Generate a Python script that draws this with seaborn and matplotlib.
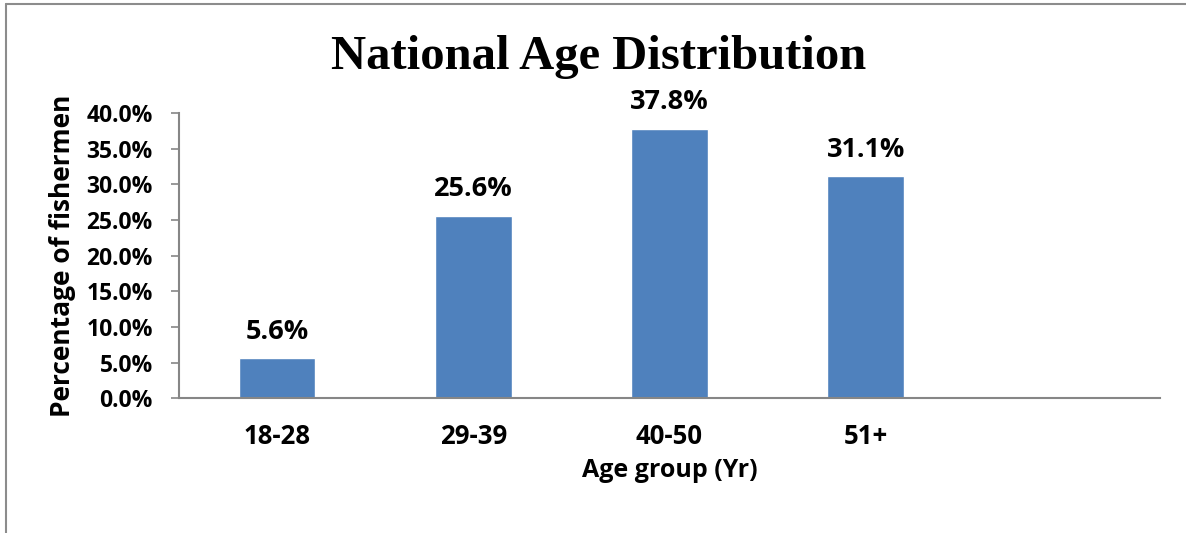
import numpy as np
import matplotlib
matplotlib.use("Agg")
from matplotlib import pyplot as plt
from matplotlib.lines import Line2D
import seaborn as sns
import pandas as pd

sns.set_style("white")
plt.rcParams['font.family'] = ['Open Sans', 'DejaVu Sans']
plt.rcParams['text.color'] = 'black'
plt.rcParams['axes.labelcolor'] = 'black'

# Chart data ------------------------------------------------------------------
age_groups = ['18-28', '29-39', '40-50', '51+']
pct_fishermen = [5.6, 25.6, 37.8, 31.1]
slots = age_groups + ['']          # chart keeps an empty fifth slot
y_ticks = [0, 5, 10, 15, 20, 25, 30, 35, 40]

df = pd.DataFrame({'group': age_groups, 'pct': pct_fishermen})

fig = plt.figure(figsize=(11.86, 5.33), dpi=100)
ax = fig.add_axes([0.151, 0.253, 0.827, 0.535])

sns.barplot(data=df, x='group', y='pct', order=slots, color='#4F81BD',
            saturation=1, width=0.39, edgecolor='white', linewidth=1, ax=ax)

for patch, val in zip(ax.patches, pct_fishermen):
    ax.annotate(f'{val:.1f}%', (patch.get_x() + patch.get_width() / 2, val),
                xytext=(0, 14), textcoords='offset points', ha='center',
                va='baseline', fontsize=19.5, fontweight='bold')

ax.set_xlim(-0.5, 4.5)
ax.set_ylim(0, 40)
ax.set_yticks(y_ticks)
ax.set_yticklabels([f'{t:.1f}%' for t in y_ticks], fontsize=16.5, fontweight='bold')
ax.set_xticks(range(len(slots)))
ax.set_xticklabels(slots, fontsize=18.5, fontweight='bold')
ax.tick_params(axis='y', length=6, width=1.2, color='#868686', labelcolor='black',
               left=True, pad=13)
ax.tick_params(axis='x', length=0, pad=18, labelcolor='black')

for side in ['top', 'right']:
    ax.spines[side].set_visible(False)
for side in ['left', 'bottom']:
    ax.spines[side].set_color('#868686')
    ax.spines[side].set_linewidth(1.5)

ax.set_xlabel('Age group (Yr)', fontsize=18, fontweight='bold', va='center')
ax.set_ylabel('Percentage of fishermen', fontsize=19, fontweight='bold', va='center')
ax.xaxis.set_label_coords(0.5, -0.255)
ax.yaxis.set_label_coords(-0.119, 0.5)

fig.text(0.505, 0.893, 'National Age Distribution', ha='center', va='center',
         fontsize=35, fontweight='bold', family='Liberation Serif')

# chart area frame (only top and left edges are visible)
fig.add_artist(Line2D([0.005, 1.0], [0.992, 0.992], color='#8c8c8c', lw=1.5))
fig.add_artist(Line2D([0.005, 0.005], [0.0, 0.992], color='#8c8c8c', lw=1.5))

fig.savefig('out.png', dpi=100)
